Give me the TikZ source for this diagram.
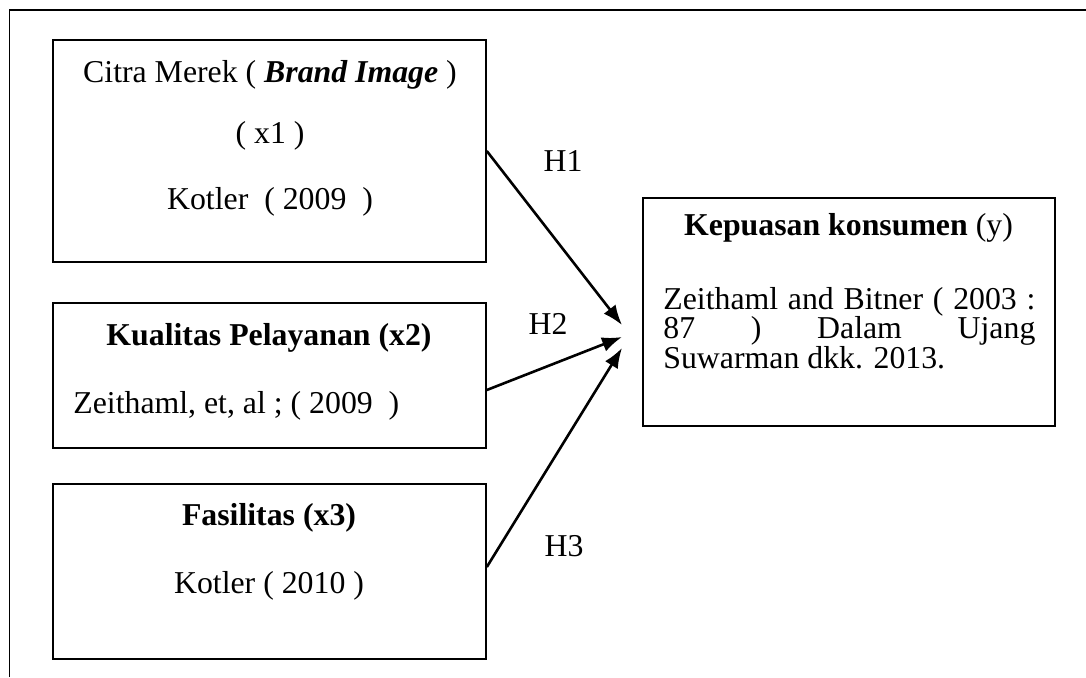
\documentclass[tikz,border=0pt]{standalone}
\usepackage{fontspec}
\setmainfont{Liberation Serif}
\usetikzlibrary{arrows.meta}
\newcommand{\txt}{\fontsize{15.9}{14.75}\selectfont\lineskiplimit=-20pt}

\begin{document}
\begin{tikzpicture}[x=0.5pt,y=-0.5pt,
  box/.style={draw,line width=0.8pt,inner sep=0pt},
  lbl/.style={anchor=base,inner sep=0pt,font=\txt},
  hyp/.style={line width=1.3pt,-{Latex[length=10pt,width=7.5pt]}}]
\useasboundingbox (0,0) rectangle (1086,677);
% outer frame, cut off at right and bottom
\draw [line width=0.7pt] (9.5,677) -- (9.5,10) -- (1086,10);
% variable boxes
\node [box,minimum width=216.5pt,minimum height=111pt] (cm) at (269.5,151) {};
\node [box,minimum width=216.5pt,minimum height=72.5pt] (kp) at (269.5,375.5) {};
\node [box,minimum width=216.5pt,minimum height=87.5pt] (fs) at (269.5,571.5) {};
\node [box,minimum width=206pt,minimum height=114pt] (ks) at (849,312) {};
% texts
\node [lbl] (cm1) at (270,82) {Citra Merek ( \textbf{\textit{Brand Image}} )};
\node [lbl] (cm2) at (270,143) {( x1 )};
\node [lbl] (cm3) at (270,209) {Kotler~ ( 2009~ )};
\node [lbl] (kp1) at (269,345) {\textbf{Kualitas Pelayanan (x2)}};
\node [lbl,anchor=base west] (kp2) at (73,413) {Zeithaml, et, al ; ( 2009~ )};
\node [lbl] (fs1) at (269,525) {\textbf{Fasilitas (x3)}};
\node [lbl] (fs2) at (269,593) {Kotler ( 2010 )};
\node [lbl] (ks1) at (848.5,235) {\textbf{Kepuasan konsumen} (y)};
\node [anchor=north west,inner sep=0pt,text width=186pt,align=justify,font=\txt] (ks2) at (663,287)
  {Zeithaml and Bitner ( 2003 :\linebreak 87 ) Dalam Ujang\linebreak Suwarman dkk. 2013.};
% hypotheses
\coordinate (t1) at (622,325);
\coordinate (t2) at (622,337);
\coordinate (t3) at (622,348);
\draw [hyp] (cm.east) -- (t1);
\draw [hyp] ([yshift=-7.25pt]kp.east) -- (t2);
\draw [hyp] ([yshift=2.25pt]fs.east) -- (t3);
\node [lbl] (h1) at (563,171) {H1};
\node [lbl] (h2) at (548,334) {H2};
\node [lbl] (h3) at (564,556) {H3};
\end{tikzpicture}
\end{document}
